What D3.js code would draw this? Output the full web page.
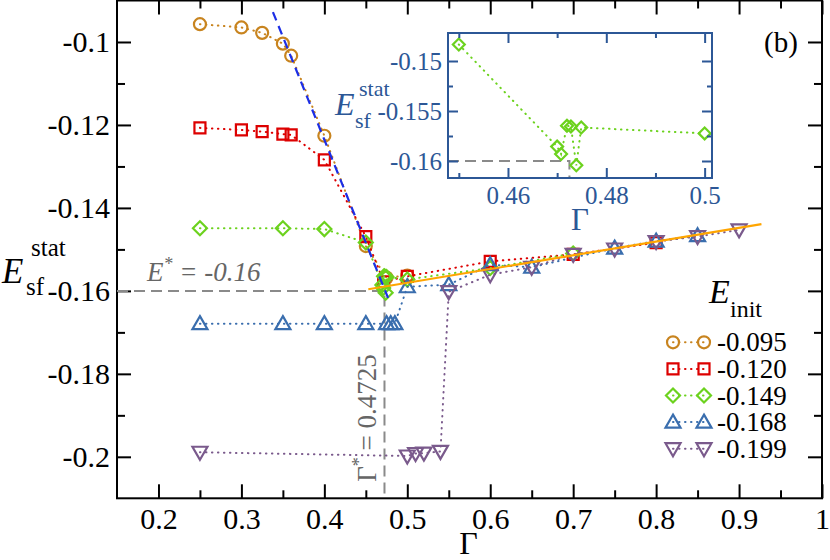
<!DOCTYPE html>
<html>
<head>
<meta charset="utf-8">
<script src="https://cdn.jsdelivr.net/npm/d3@7"></script>
<style>
  body { margin: 0; background: #fff; }
  svg { display: block; }
  svg text { font-family: 'Liberation Serif', 'DejaVu Serif', serif; }
</style>
</head>
<body>
<svg id="chart" width="830" height="560"></svg>
<script>
// ---- data ----
const xMajor = [0.2, 0.3, 0.4, 0.5, 0.6, 0.7, 0.8, 0.9, 1];
const xMinor = [0.25, 0.35, 0.45, 0.55, 0.65, 0.75, 0.85, 0.95];
const yMajor = [-0.2, -0.18, -0.16, -0.14, -0.12, -0.1];
const yMinor = [-0.19, -0.17, -0.15, -0.13, -0.11];

const eInit = ['-0.095', '-0.120', '-0.149', '-0.168', '-0.199'];

const gam095 = [0.25, 0.3, 0.325, 0.35, 0.36, 0.4, 0.45, 0.475, 0.5];
const est095 = [-0.0957, -0.0965, -0.0978, -0.1004, -0.1033, -0.1226, -0.1492, -0.1568, -0.1563];

const gam120 = [0.25, 0.3, 0.325, 0.35, 0.36, 0.4, 0.45, 0.4715, 0.5, 0.6, 0.7, 0.8];
const est120 = [-0.1207, -0.1212, -0.1216, -0.1222, -0.1224, -0.1284, -0.1469, -0.1578, -0.1565, -0.1529, -0.1512, -0.1484];

const gam149 = [0.25, 0.35, 0.4, 0.45, 0.47, 0.4708, 0.472, 0.4728, 0.4739, 0.4749, 0.5, 0.6, 0.7];
const est149 = [-0.1449, -0.1449, -0.1451, -0.14835, -0.15856, -0.1593, -0.15648, -0.15655, -0.16043, -0.15665, -0.15724, -0.1545, -0.1510];

const gam168 = [0.25, 0.35, 0.4, 0.45, 0.475, 0.48, 0.485, 0.5, 0.55, 0.6, 0.65, 0.75, 0.8, 0.85];
const est168 = [-0.1679, -0.1679, -0.1679, -0.1679, -0.1679, -0.1679, -0.1679, -0.1590, -0.1585, -0.1537, -0.1543, -0.1497, -0.1480, -0.1467];

const gam199 = [0.25, 0.5, 0.51, 0.52, 0.54, 0.55, 0.6, 0.65, 0.7, 0.75, 0.8, 0.85, 0.9];
const est199 = [-0.1989, -0.1998, -0.1992, -0.1991, -0.1987, -0.1602, -0.1561, -0.1543, -0.1512, -0.1499, -0.1481, -0.1469, -0.1453];

// fitted lines (end points) and the crossing point
const blueFitGam = [0.338, 0.4768];
const blueFitEst = [-0.0928, -0.1617];
const orangeFitGam = [0.453, 0.927];
const orangeFitEst = [-0.1596, -0.1439];
const eStar = -0.16;
const gammaStar = 0.4725;

// inset ticks
const insetXMajor = [0.46, 0.48, 0.5];
const insetXMinor = [0.45, 0.47, 0.49];
const insetYMajor = [-0.16, -0.155, -0.15];
const insetYMinor = [-0.1575, -0.1525];

// ---- styles ----
const serif = "'Liberation Serif', 'DejaVu Serif', serif";
const colors = ['#c8841f', '#dd0000', '#6cd21e', '#3a6eae', '#7a5a8c'];
const shapes = ['circle', 'square', 'diamond', 'up', 'down'];
const insetBlue = '#2c5796';

const svg = d3.select('#chart').attr('font-family', serif);

// main plot area
const plotLeft = 117, plotRight = 822, plotTop = 0.5, plotBottom = 498.3;
const x = d3.scaleLinear().domain([0.15, 1]).range([plotLeft, plotRight]);
const y = d3.scaleLinear().domain([-0.21, -0.09]).range([plotBottom, plotTop]);

// hollow marker shapes
function markerPath(shape, s) {
    const p = d3.path();
    if (shape === 'circle') {
        p.moveTo(6 * s, 0);
        p.arc(0, 0, 6 * s, 0, 2 * Math.PI);
    } else if (shape === 'square') {
        p.rect(-5.5 * s, -5.5 * s, 11 * s, 11 * s);
    } else if (shape === 'diamond') {
        p.moveTo(0, -7 * s); p.lineTo(7 * s, 0); p.lineTo(0, 7 * s); p.lineTo(-7 * s, 0); p.closePath();
    } else if (shape === 'up') {
        p.moveTo(0, -7.5 * s); p.lineTo(7.5 * s, 5.5 * s); p.lineTo(-7.5 * s, 5.5 * s); p.closePath();
    } else {
        p.moveTo(0, 7.5 * s); p.lineTo(7.5 * s, -5.5 * s); p.lineTo(-7.5 * s, -5.5 * s); p.closePath();
    }
    return p.toString();
}

// axis helper: inward ticks, optional labels
function drawAxis(g, axisFn, scale, values, size, fmt, fontSize, padding) {
    const a = axisFn(scale).tickValues(values).tickSizeInner(-size).tickSizeOuter(0).tickPadding(padding);
    a.tickFormat(fmt ? fmt : () => '');
    g.call(a);
    g.select('.domain').remove();
    g.attr('font-family', serif).attr('font-size', fontSize);
    g.selectAll('.tick line').attr('stroke', '#000').attr('stroke-width', 2);
    g.selectAll('.tick text').attr('fill', '#000');
    return g;
}
const fmt = d => String(d);

// main axes: bottom/left with labels, top/right ticks only
drawAxis(svg.append('g').attr('transform', `translate(0,${plotBottom})`), d3.axisBottom, x, xMajor, 14, fmt, 30, 9);
drawAxis(svg.append('g').attr('transform', `translate(0,${plotBottom})`), d3.axisBottom, x, xMinor, 8, null, 30, 9);
drawAxis(svg.append('g').attr('transform', `translate(0,${plotTop})`), d3.axisTop, x, xMajor, 14, null, 30, 9);
drawAxis(svg.append('g').attr('transform', `translate(0,${plotTop})`), d3.axisTop, x, xMinor, 8, null, 30, 9);
drawAxis(svg.append('g').attr('transform', `translate(${plotLeft},0)`), d3.axisLeft, y, yMajor, 14, fmt, 30, 7);
drawAxis(svg.append('g').attr('transform', `translate(${plotLeft},0)`), d3.axisLeft, y, yMinor, 8, null, 30, 7);
drawAxis(svg.append('g').attr('transform', `translate(${plotRight},0)`), d3.axisRight, y, yMajor, 14, null, 30, 7);
drawAxis(svg.append('g').attr('transform', `translate(${plotRight},0)`), d3.axisRight, y, yMinor, 8, null, 30, 7);

// frame
svg.append('rect')
    .attr('x', plotLeft).attr('y', plotTop)
    .attr('width', plotRight - plotLeft).attr('height', plotBottom - plotTop)
    .attr('fill', 'none').attr('stroke', '#000').attr('stroke-width', 2);

// axis titles
svg.append('text')
    .attr('x', (plotLeft + plotRight) / 2 - 1).attr('y', 554)
    .attr('text-anchor', 'middle').attr('font-size', 32)
    .text('Γ');

const yTitle = svg.append('text').attr('x', 2).attr('y', 283).attr('font-size', 35);
yTitle.append('tspan').attr('font-style', 'italic').text('E');
yTitle.append('tspan').attr('x', 31).attr('y', 256).attr('font-size', 25).text('stat');
yTitle.append('tspan').attr('x', 26).attr('y', 295).attr('font-size', 25).text('sf');

// grey reference lines at E* and Gamma*
const line = d3.line().x(d => x(d[0])).y(d => y(d[1]));
svg.append('path')
    .attr('d', line([[0.15, eStar], [gammaStar, eStar], [gammaStar, -0.21]]))
    .attr('fill', 'none').attr('stroke', '#8a8a8a').attr('stroke-width', 2)
    .attr('stroke-dasharray', '11,6');

const eLab = svg.append('text')
    .attr('x', 147).attr('y', 281).attr('font-size', 27)
    .attr('font-style', 'italic').attr('fill', '#666');
eLab.append('tspan').text('E');
eLab.append('tspan').attr('font-size', 18).attr('dy', -11).text('*');
eLab.append('tspan').attr('dy', 11).text(' = -0.16');

const gLab = svg.append('text')
    .attr('transform', `translate(${x(gammaStar) - 8},418) rotate(-90)`)
    .attr('text-anchor', 'middle').attr('font-size', 27).attr('fill', '#666');
gLab.append('tspan').text('Γ');
gLab.append('tspan').attr('font-size', 18).attr('dy', -11).text('*');
gLab.append('tspan').attr('dy', 11).text(' = 0.4725');

// data series: dotted line + hollow markers
const gams = [gam095, gam120, gam149, gam168, gam199];
const ests = [est095, est120, est149, est168, est199];

gams.forEach((gs, i) => {
    const pts = gs.map((g, j) => [g, ests[i][j]]);
    const grp = svg.append('g');
    grp.append('path')
        .attr('d', line(pts))
        .attr('fill', 'none').attr('stroke', colors[i]).attr('stroke-width', 2)
        .attr('stroke-linecap', 'round').attr('stroke-dasharray', '0.5,5.5');
    grp.selectAll('path.m')
        .data(pts)
        .join('path')
        .attr('class', 'm')
        .attr('transform', d => `translate(${x(d[0])},${y(d[1])})`)
        .attr('d', markerPath(shapes[i], 1))
        .attr('fill', 'none').attr('stroke', colors[i]).attr('stroke-width', 2.2);
});

// fitted lines
svg.append('path')
    .attr('d', line(blueFitGam.map((g, j) => [g, blueFitEst[j]])))
    .attr('stroke', '#1c2ee6').attr('stroke-width', 2.2).attr('stroke-dasharray', '9,6');
svg.append('path')
    .attr('d', line(orangeFitGam.map((g, j) => [g, orangeFitEst[j]])))
    .attr('stroke', '#ffa500').attr('stroke-width', 2.2);

// panel tag
svg.append('text').attr('x', 764).attr('y', 52).attr('font-size', 29).text('(b)');

// legend
const legTitle = svg.append('text').attr('x', 709).attr('y', 303).attr('font-size', 34);
legTitle.append('tspan').attr('font-style', 'italic').text('E');
legTitle.append('tspan').attr('x', 730).attr('y', 317).attr('font-size', 24).text('init');

const legY = d3.scaleBand().domain(eInit).range([329, 462]);
eInit.forEach((lab, i) => {
    const cy = legY(lab) + legY.bandwidth() / 2;
    const row = svg.append('g').attr('transform', `translate(0,${cy})`);
    row.append('line')
        .attr('x1', 673).attr('x2', 704)
        .attr('stroke', colors[i]).attr('stroke-width', 2)
        .attr('stroke-linecap', 'round').attr('stroke-dasharray', '0.5,5.5');
    [673, 704].forEach(mx => {
        row.append('path')
            .attr('transform', `translate(${mx},0)`)
            .attr('d', markerPath(shapes[i], 1))
            .attr('fill', 'none').attr('stroke', colors[i]).attr('stroke-width', 2.2);
    });
    row.append('text')
        .attr('x', 717).attr('dy', '0.34em')
        .attr('font-size', 27).text(lab);
});

// ---- inset: zoom on the -0.149 series near Gamma* ----
const ix = d3.scaleLinear().domain([0.4478, 0.5015]).range([448, 712]);
const iy = d3.scaleLinear().domain([-0.1617, -0.1472]).range([178, 33]);
const inset = svg.append('g');

inset.append('rect')
    .attr('x', 448).attr('y', 33).attr('width', 264).attr('height', 145)
    .attr('fill', '#fff');

const iline = d3.line().x(d => ix(d[0])).y(d => iy(d[1]));
inset.append('path')
    .attr('d', iline([[0.4478, eStar], [gammaStar, eStar], [gammaStar, -0.1617]]))
    .attr('fill', 'none').attr('stroke', '#8a8a8a').attr('stroke-width', 2)
    .attr('stroke-dasharray', '11,6');

const insetPts = gam149.map((g, j) => [g, est149[j]]).filter(d => d[0] >= 0.45 && d[0] <= 0.5);
inset.append('path')
    .attr('d', iline(insetPts))
    .attr('fill', 'none').attr('stroke', colors[2]).attr('stroke-width', 2)
    .attr('stroke-linecap', 'round').attr('stroke-dasharray', '0.5,5.5');
inset.selectAll('path.im')
    .data(insetPts)
    .join('path')
    .attr('class', 'im')
    .attr('transform', d => `translate(${ix(d[0])},${iy(d[1])})`)
    .attr('d', markerPath('diamond', 0.85))
    .attr('fill', 'none').attr('stroke', colors[2]).attr('stroke-width', 2.2);

const ifmt = d => String(d);
function insetAxis(axisFn, scale, values, size, tr, f) {
    const g = inset.append('g').attr('transform', tr);
    drawAxis(g, axisFn, scale, values, size, f, 25, 8);
    g.selectAll('.tick line').attr('stroke', insetBlue);
    g.selectAll('.tick text').attr('fill', insetBlue);
    return g;
}
insetAxis(d3.axisBottom, ix, insetXMajor, 10, 'translate(0,178)', ifmt);
insetAxis(d3.axisBottom, ix, insetXMinor, 5, 'translate(0,178)', null);
insetAxis(d3.axisTop, ix, insetXMajor, 10, 'translate(0,33)', null);
insetAxis(d3.axisTop, ix, insetXMinor, 5, 'translate(0,33)', null);
insetAxis(d3.axisLeft, iy, insetYMajor, 10, 'translate(448,0)', ifmt).selectAll('.tick text').attr('x', -6);
insetAxis(d3.axisLeft, iy, insetYMinor, 5, 'translate(448,0)', null);
insetAxis(d3.axisRight, iy, insetYMajor, 10, 'translate(712,0)', null);
insetAxis(d3.axisRight, iy, insetYMinor, 5, 'translate(712,0)', null);

inset.append('rect')
    .attr('x', 448).attr('y', 33).attr('width', 264).attr('height', 145)
    .attr('fill', 'none').attr('stroke', insetBlue).attr('stroke-width', 2);

inset.append('text')
    .attr('x', 580).attr('y', 230).attr('text-anchor', 'middle')
    .attr('font-size', 31).attr('fill', insetBlue).text('Γ');

const iyTitle = inset.append('text').attr('x', 335).attr('y', 115)
    .attr('font-size', 32).attr('fill', insetBlue);
iyTitle.append('tspan').attr('font-style', 'italic').text('E');
iyTitle.append('tspan').attr('x', 359).attr('y', 96).attr('font-size', 22).text('stat');
iyTitle.append('tspan').attr('x', 355).attr('y', 128).attr('font-size', 22).text('sf');
</script>
</body>
</html>
